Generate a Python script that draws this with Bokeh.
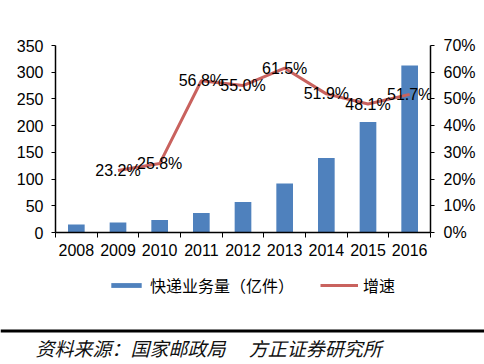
from bokeh.plotting import figure
from bokeh.layouts import column
from bokeh.models import (Range1d, LinearAxis, FixedTicker, PrintfTickFormatter, Legend,
                          LegendItem, Label, BoxAnnotation, ColumnDataSource)
from bokeh.embed import file_html
from bokeh.resources import INLINE
from bokeh.core.properties import value

years = ["2008", "2009", "2010", "2011", "2012", "2013", "2014", "2015", "2016"]
volume = [15.1, 18.6, 23.4, 36.7, 56.9, 91.9, 139.6, 206.7, 312.8]
growth = [None, 23.2, 25.8, 56.8, 55.0, 61.5, 51.9, 48.1, 51.7]
left_ticks = [0, 50, 100, 150, 200, 250, 300, 350]
right_ticks = [0, 10, 20, 30, 40, 50, 60, 70]
bar_label = "快递业务量（亿件）"
line_label = "增速"
source_text = "资料来源：国家邮政局　 方正证券研究所"

LATIN = "Liberation Sans"
CJK = "Noto Sans CJK SC"
BAR_COLOR = "#4F81BD"
LINE_COLOR = "#C9625E"
W = 484
H1 = 262
H2 = 100

xs = list(range(len(years)))
gx = [i for i, g in zip(xs, growth) if g is not None]
gy = [g for g in growth if g is not None]
src_line = ColumnDataSource(dict(x=gx, y=gy, t=[f"{g:.1f}%" for g in gy]))

p = figure(width=W, height=H1, output_backend="svg", toolbar_location=None,
           x_range=Range1d(-0.5, len(years) - 0.5), y_range=Range1d(0, 350),
           min_border_left=55, min_border_right=54, min_border_top=45, min_border_bottom=H1 - 232)
p.frame_align = False
p.outline_line_color = None
p.grid.visible = False
p.extra_y_ranges = {"pct": Range1d(0, 70)}

bars = p.vbar(x=xs, top=volume, width=0.4, fill_color=BAR_COLOR, line_color=None)
line = p.line("x", "y", source=src_line, y_range_name="pct", line_color=LINE_COLOR, line_width=3)
p.text("x", "y", text="t", source=src_line, y_range_name="pct", text_align="center",
       text_baseline="middle", text_font=value(LATIN), text_font_size="16px", text_color="black")

xa = p.xaxis[0]
xa.ticker = FixedTicker(ticks=xs, minor_ticks=[i - 0.5 for i in range(len(years) + 1)])
xa.major_label_overrides = {i: y for i, y in enumerate(years)}
xa.major_tick_out = 0
xa.major_tick_in = 0
xa.minor_tick_out = 5
xa.minor_tick_in = 0
xa.minor_tick_line_color = "black"
xa.major_label_standoff = 6

ya = p.yaxis[0]
ya.ticker = FixedTicker(ticks=left_ticks)
ya.major_tick_out = 4
ya.major_tick_in = 0
ya.minor_tick_line_color = None
ya.major_label_standoff = 8

ra = LinearAxis(y_range_name="pct", ticker=FixedTicker(ticks=right_ticks),
                formatter=PrintfTickFormatter(format="%d%%"))
ra.major_tick_out = 4
ra.major_tick_in = 0
ra.minor_tick_line_color = None
ra.major_label_standoff = 9
p.add_layout(ra, "right")

for ax in [xa, ya, ra]:
    ax.axis_line_color = "black"
    ax.axis_line_width = 1.5
    ax.major_tick_line_color = "black"
    ax.major_label_text_font = LATIN
    ax.major_label_text_font_size = "16px"
    ax.major_label_text_color = "black"

# lower strip: legend, rule and source
q = figure(width=W, height=H2, output_backend="svg", toolbar_location=None,
           x_range=Range1d(0, W), y_range=Range1d(0, H2),
           x_axis_location=None, y_axis_location=None, min_border=0)
q.frame_align = False
q.outline_line_color = None
q.grid.visible = False
# legend-only copies of the two series (hidden; they only supply the legend swatches)
lb = q.vbar(x=xs, top=volume, width=0.4, fill_color=BAR_COLOR, line_color=None, visible=False)
ll = q.line(x=gx, y=gy, line_color=LINE_COLOR, line_width=3, visible=False)

legend = Legend(items=[LegendItem(label=bar_label, renderers=[lb]),
                       LegendItem(label=line_label, renderers=[ll])],
                orientation="horizontal", location=(107, 65), padding=0, margin=0,
                spacing=26, glyph_width=38, glyph_height=6, label_standoff=5,
                border_line_color=None, background_fill_alpha=0,
                inactive_fill_alpha=0,
                label_text_font=CJK, label_text_font_size="16px", label_text_color="black")
q.add_layout(legend, "center")

rule = BoxAnnotation(left=0, right=W, top=H2 - 67, bottom=H2 - 70, fill_color="black",
                     fill_alpha=1, line_color=None)
q.add_layout(rule)

src = Label(x=35, y=H2 - 85, text=source_text, text_font=CJK, text_font_style="italic",
            text_font_size="19px", text_color="#111111", text_baseline="middle")
q.add_layout(src)

open("out.html", "w").write(file_html(column(p, q, spacing=0), INLINE))
